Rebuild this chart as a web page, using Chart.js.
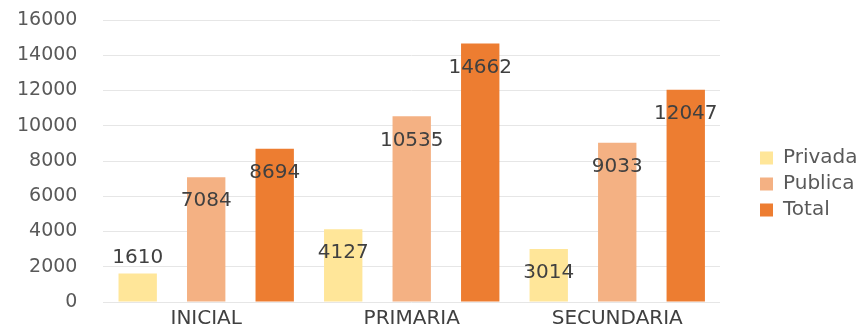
<!DOCTYPE html>
<html>
<head>
<meta charset="utf-8">
<script src="https://cdn.jsdelivr.net/npm/chart.js@4"></script>
<style>
  html, body { margin: 0; padding: 0; background: #ffffff; }
  #wrap { width: 859px; height: 329px; }
</style>
</head>
<body>
<div id="wrap"><canvas id="chart" width="859" height="329"></canvas></div>
<script>
// Matrícula por nivel educativo
const categories = ['INICIAL', 'PRIMARIA', 'SECUNDARIA'];
const privada = [1610, 4127, 3014];
const publica = [7084, 10535, 9033];
const total = [8694, 14662, 12047];
const yTicks = [0, 2000, 4000, 6000, 8000, 10000, 12000, 14000, 16000];

const FONT = '"DejaVu Sans", sans-serif';

// Writes each bar's value near the top of the bar (above it when the bar is short)
const valueLabels = {
  id: 'valueLabels',
  afterDatasetsDraw(chart) {
    const ctx = chart.ctx;
    ctx.save();
    ctx.font = '20px ' + FONT;
    ctx.fillStyle = '#404040';
    ctx.textAlign = 'center';
    ctx.textBaseline = 'middle';
    chart.data.datasets.forEach((ds, di) => {
      const meta = chart.getDatasetMeta(di);
      meta.data.forEach((bar, i) => {
        const h = bar.base - bar.y;
        const y = h > 40 ? bar.y + 24 : bar.y - 16;
        ctx.fillText(String(ds.data[i]), bar.x, y);
      });
    });
    ctx.restore();
  }
};

// Leaves a wider gap between the plot area and the legend
const legendGap = {
  id: 'legendGap',
  afterLayout(chart) {
    const lg = chart.legend;
    if (lg) { lg.left += 34; lg.right += 34; lg.top += 6; lg.bottom += 6; }
  }
};

new Chart(document.getElementById('chart'), {
  type: 'bar',
  data: {
    labels: categories,
    datasets: [
      { label: 'Privada', data: privada, backgroundColor: '#FFE699' },
      { label: 'Publica', data: publica, backgroundColor: '#F4B183' },
      { label: 'Total', data: total, backgroundColor: '#ED7D31' }
    ]
  },
  options: {
    responsive: false,
    animation: false,
    layout: { padding: { left: 17, top: 20, right: 0, bottom: -7 } },
    datasets: { bar: { categoryPercentage: 1.0, barPercentage: 0.56 } },
    plugins: {
      legend: {
        position: 'right',
        labels: {
          boxWidth: 13, boxHeight: 13, padding: 6,
          color: '#595959',
          font: { family: FONT, size: 20 }
        }
      },
      tooltip: { enabled: false }
    },
    scales: {
      x: {
        grid: { display: false, drawTicks: false },
        border: { display: false },
        ticks: { color: '#404040', padding: 7, font: { family: FONT, size: 20, lineHeight: 1 } },
        afterFit(scale) { scale.paddingLeft = 0; scale.paddingRight = 139; }
      },
      y: {
        min: 0, max: 16000,
        afterBuildTicks(scale) { scale.ticks = yTicks.map(v => ({ value: v })); },
        afterFit(scale) { scale.paddingTop = 0; scale.paddingBottom = 0; scale.width -= 26; },
        grid: { color: '#E6E6E6', drawTicks: false },
        border: { display: false },
        ticks: {
          color: '#595959', padding: 26,
          font: { family: FONT, size: 19 },
          callback: (v) => String(v)
        }
      }
    }
  },
  plugins: [valueLabels, legendGap]
});
</script>
</body>
</html>
